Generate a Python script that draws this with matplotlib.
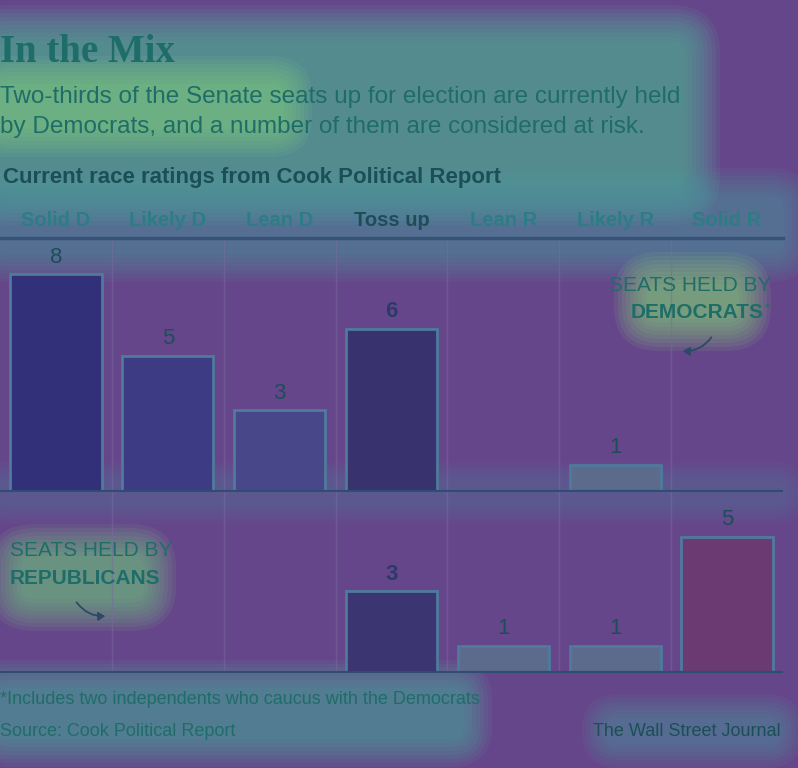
import matplotlib
matplotlib.use("Agg")
import matplotlib.pyplot as plt
from matplotlib.patches import FancyArrowPatch, FancyBboxPatch

SANS = "Liberation Sans"
SERIF = "Liberation Serif"

categories = ["Solid D", "Likely D", "Lean D", "Toss up", "Lean R", "Likely R", "Solid R"]
dem_seats = [8, 5, 3, 6, 0, 1, 0]
rep_seats = [0, 0, 0, 3, 1, 1, 5]

title = "In the Mix"
subtitle = ["Two-thirds of the Senate seats up for election are currently held",
            "by Democrats, and a number of them are considered at risk."]
chart_head = "Current race ratings from Cook Political Report"
note = "*Includes two independents who caucus with the Democrats"
source = "Source: Cook Political Report"
credit = "The Wall Street Journal"

BG = "#66468a"
TXT = "#1f6d68"
DARK = "#1b4e57"
HEAD = "#2c7d84"
LINE = "#2f4d70"
dem_colors = ["#33307a", "#3d3b84", "#47478a", "#38336f", "#5c6a8c", "#5c6a8c", "#5c6a8c"]
rep_colors = ["#5c6a8c", "#5c6a8c", "#5c6a8c", "#3b3572", "#5c6a8c", "#5c6a8c", "#6b3a72"]

W, H = 798, 768
fig = plt.figure(figsize=(W / 100, H / 100), dpi=100)
fig.patch.set_facecolor(BG)

def fx(px):
    return px / W

def fy(py):
    return 1 - py / H

def glow(x0, y0, x1, y1, color, steps=10, pad=4, alpha=0.1):
    for k in range(steps):
        p = (steps - k) * pad
        r = 0.012 + p / W
        fig.add_artist(FancyBboxPatch((fx(x0 - p), fy(y1 + p)),
                                      fx(x1 - x0 + 2 * p), (y1 - y0 + 2 * p) / H,
                                      boxstyle=f"round,pad=0,rounding_size={r:.4f}",
                                      transform=fig.transFigure, fc=color, ec="none",
                                      alpha=alpha, zorder=-5))

# soft highlight regions behind the text blocks
glow(0, 45, 680, 185, "#4fae98", steps=10, pad=4, alpha=0.11)
glow(0, 88, 280, 125, "#86d47a", steps=8, pad=4, alpha=0.09)
glow(0, 200, 780, 250, "#4a9aa0", steps=8, pad=4, alpha=0.09)
glow(650, 288, 735, 315, "#86d47a", steps=9, pad=4, alpha=0.1)
glow(25, 560, 140, 595, "#72c780", steps=9, pad=4, alpha=0.1)
glow(0, 692, 460, 735, "#49a89a", steps=8, pad=4, alpha=0.1)
glow(610, 722, 775, 740, "#4a9aa0", steps=7, pad=4, alpha=0.09)
glow(0, 485, 783, 500, "#4f80a0", steps=6, pad=4, alpha=0.07)

PXU = 27.2          # pixels per seat
LEFT, RIGHT = 0, 783
TOP_LINE, BASE1, BASE2 = 238, 492, 673

def make_ax(top, bottom):
    ax = fig.add_axes([fx(LEFT), fy(bottom), fx(RIGHT - LEFT), (bottom - top) / H])
    ax.set_xlim(-0.5, len(categories) - 0.5)
    ax.set_ylim(0, (bottom - top) / PXU)
    ax.set_facecolor("none")
    for s in ax.spines.values():
        s.set_visible(False)
    ax.set_xticks([]); ax.set_yticks([])
    for i in range(1, len(categories)):
        ax.axvline(i - 0.5, color="#7a6aa0", lw=1, alpha=0.5, zorder=0)
    ax.axhline(0, color=LINE, lw=3, zorder=3)
    return ax

ax1 = make_ax(TOP_LINE, BASE1)
ax2 = make_ax(BASE1, BASE2)

x = range(len(categories))
for ax, vals, cols in [(ax1, dem_seats, dem_colors), (ax2, rep_seats, rep_colors)]:
    for i, v in zip(x, vals):
        if v <= 0:
            continue
        ax.bar(i, v, width=0.815, color=cols[i], edgecolor="#4f7a9c", lw=2, zorder=2)
        bold = categories[i] == "Toss up"
        ax.text(i, v + 0.25, str(v), ha="center", va="bottom", fontsize=16,
                family=SANS, color=("#2c3a68" if bold else DARK),
                fontweight="bold" if bold else "normal", zorder=4)

# header line at top of columns
fig.add_artist(plt.Line2D([fx(LEFT), fx(RIGHT)], [fy(TOP_LINE), fy(TOP_LINE)],
                          color=LINE, lw=2.5, alpha=0.8))

# column headers
for i, c in enumerate(categories):
    px = LEFT + (i + 0.5) * (RIGHT - LEFT) / len(categories)
    bold = c == "Toss up"
    fig.text(fx(px), fy(220), c, ha="center", va="center", fontsize=14.5,
             family=SANS, fontweight="bold",
             color=(DARK if bold else HEAD))

# titles
fig.text(fx(0), fy(53), title, ha="left", va="center", fontsize=28,
         family=SERIF, fontweight="bold", color=TXT)
fig.text(fx(0), fy(97), subtitle[0], ha="left", va="center", fontsize=17.5,
         family=SANS, color=TXT)
fig.text(fx(0), fy(127), subtitle[1], ha="left", va="center", fontsize=17.5,
         family=SANS, color=TXT)
fig.text(fx(3), fy(178), chart_head, ha="left", va="center", fontsize=16,
         family=SANS, fontweight="bold", color=DARK)

# annotations
fig.text(fx(771), fy(286), "SEATS HELD BY", ha="right", va="center", fontsize=15,
         family=SANS, color=TXT)
fig.text(fx(764), fy(313), "DEMOCRATS", ha="right", va="center", fontsize=15,
         family=SANS, fontweight="bold", color=TXT)
fig.text(fx(765), fy(308), "*", ha="left", va="center", fontsize=9,
         family=SANS, color=TXT)
fig.add_artist(FancyArrowPatch((fx(713), fy(335)), (fx(680), fy(351)),
                               transform=fig.transFigure, connectionstyle="arc3,rad=-0.3",
                               arrowstyle="-|>,head_length=4,head_width=2.5",
                               color="#2c4a66", lw=1.3))

fig.text(fx(10), fy(550), "SEATS HELD BY", ha="left", va="center", fontsize=15,
         family=SANS, color=TXT)
fig.text(fx(10), fy(578), "REPUBLICANS", ha="left", va="center", fontsize=15,
         family=SANS, fontweight="bold", color=TXT)
fig.add_artist(FancyArrowPatch((fx(75), fy(600)), (fx(108), fy(616)),
                               transform=fig.transFigure, connectionstyle="arc3,rad=0.3",
                               arrowstyle="-|>,head_length=4,head_width=2.5",
                               color="#2c4a66", lw=1.3))

# footer
fig.text(fx(0), fy(700), note, ha="left", va="center", fontsize=13,
         family=SANS, color=TXT)
fig.text(fx(0), fy(731), source, ha="left", va="center", fontsize=13,
         family=SANS, color=TXT)
fig.text(fx(781), fy(731), credit, ha="right", va="center", fontsize=13,
         family=SANS, color=DARK)

fig.savefig("out.png", dpi=100, facecolor=BG)
